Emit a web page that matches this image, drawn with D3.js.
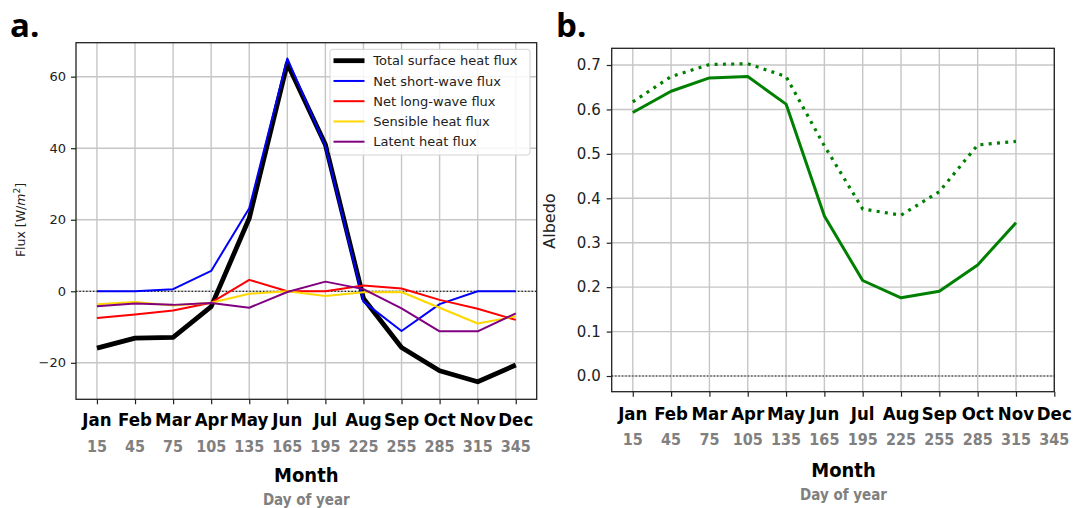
<!DOCTYPE html>
<html><head><meta charset="utf-8">
<script src="https://cdn.jsdelivr.net/npm/d3@7/dist/d3.min.js"></script>
<style>
body{margin:0;background:#fff;}
svg{display:block;}
.tl{font-family:"DejaVu Sans",sans-serif;fill:#222;}
.cond{font-family:"DejaVu Sans Condensed","DejaVu Sans",sans-serif;font-stretch:condensed;font-weight:bold;}
</style></head>
<body>
<svg id="chart" width="1075" height="508"></svg>
<script>
// ---------- data ----------
const months = ["Jan","Feb","Mar","Apr","May","Jun","Jul","Aug","Sep","Oct","Nov","Dec"];
const days = [15,45,75,105,135,165,195,225,255,285,315,345];

const totalFlux     = [-15.9,-13.1,-12.9,-4.3,20.4,63.7,41.0,-2.0,-15.7,-22.2,-25.3,-20.6];
const shortWaveFlux = [0.0,0.0,0.6,5.7,23.2,65.1,40.5,-2.9,-11.1,-3.6,0.0,0.0];
const longWaveFlux  = [-7.5,-6.5,-5.4,-3.2,3.2,0.0,0.0,1.6,0.8,-2.4,-4.9,-8.0];
const sensibleFlux  = [-3.6,-3.0,-4.0,-3.2,-0.7,0.0,-1.3,-0.3,-0.2,-4.6,-9.0,-7.0];
const latentFlux    = [-4.2,-3.4,-3.8,-3.3,-4.6,-0.2,2.7,0.6,-4.8,-11.2,-11.2,-6.2];

const albedoSolid  = [0.593,0.641,0.671,0.674,0.612,0.360,0.215,0.176,0.191,0.250,0.345];
const albedoDotted = [0.617,0.674,0.701,0.703,0.674,0.518,0.376,0.362,0.415,0.520,0.528];

const fluxTicks = [-20,0,20,40,60];
const albedoTicks = [0,0.1,0.2,0.3,0.4,0.5,0.6,0.7];

const fluxSeries = [
  {name:"Total surface heat flux", values: totalFlux, color:"#000000", width:4.8},
  {name:"Net short-wave flux", values: shortWaveFlux, color:"#0000ff", width:2},
  {name:"Net long-wave flux", values: longWaveFlux, color:"#ff0000", width:2},
  {name:"Sensible heat flux", values: sensibleFlux, color:"#ffd700", width:2},
  {name:"Latent heat flux", values: latentFlux, color:"#800080", width:2}
];

// ---------- drawing ----------
const svg = d3.select("#chart");
svg.append("rect").attr("width",1075).attr("height",508).attr("fill","#fff");

function panel(o){
  const g = svg.append("g");
  const x = d3.scaleLinear().domain(o.xDomain).range([o.left,o.right]);
  const y = d3.scaleLinear().domain(o.yDomain).range([o.bottom,o.top]);
  // grid
  g.append("g").selectAll("line.vg").data(days).join("line")
    .attr("x1",d=>x(d)).attr("x2",d=>x(d)).attr("y1",o.top).attr("y2",o.bottom)
    .attr("stroke","#c6c6c6").attr("stroke-width",1.4);
  g.append("g").selectAll("line.hg").data(o.yTicks).join("line")
    .attr("y1",d=>y(d)).attr("y2",d=>y(d)).attr("x1",o.left).attr("x2",o.right)
    .attr("stroke","#c6c6c6").attr("stroke-width",1.4);
  // zero dotted line
  g.append("line").attr("x1",o.left).attr("x2",o.right).attr("y1",y(0)).attr("y2",y(0))
    .attr("stroke","#222").attr("stroke-width",1.2).attr("stroke-dasharray","1.4,2");
  // axes
  const ya = g.append("g").attr("transform",`translate(${o.left},0)`)
    .call(d3.axisLeft(y).tickValues(o.yTicks).tickSize(5).tickPadding(o.yPad).tickFormat(o.yFormat));
  ya.select(".domain").remove();
  ya.selectAll("line").attr("stroke","#222").attr("stroke-width",1.2);
  ya.selectAll("text").attr("class","tl").style("font-size",o.yFont+"px").attr("fill","#222")
    .attr("font-family","DejaVu Sans");
  const xa = g.append("g").attr("transform",`translate(0,${o.bottom})`)
    .call(d3.axisBottom(x).tickValues(days).tickSize(5).tickFormat(""));
  xa.select(".domain").remove();
  xa.selectAll("line").attr("stroke","#222").attr("stroke-width",1.2);
  // month labels
  g.append("g").selectAll("text").data(months).join("text")
    .attr("class","cond").attr("x",(d,i)=>x(days[i])).attr("y",o.monthY)
    .attr("text-anchor","middle").style("font-size","18.5px").attr("fill","#000").text(d=>d);
  g.append("g").selectAll("text").data(days).join("text")
    .attr("class","cond").attr("x",d=>x(d)).attr("y",o.dayY)
    .attr("text-anchor","middle").style("font-size","16px").attr("fill","#808080").text(d=>d);
  const cx = (x(days[0])+x(days[days.length-1]))/2;
  g.append("text").attr("class","cond").attr("x",cx).attr("y",o.monthTitleY)
    .attr("text-anchor","middle").style("font-size","20px").attr("fill","#000").text("Month");
  g.append("text").attr("class","cond").attr("x",cx).attr("y",o.doyY)
    .attr("text-anchor","middle").style("font-size","15px").attr("fill","#808080").text("Day of year");
  return {g,x,y};
}

// Panel a
const A = panel({left:76,right:536.7,top:42.7,bottom:399.3,xDomain:[-1.5,361.5],yDomain:[-30.2,69.5],
  yTicks:fluxTicks,yFormat:d3.format("d"),yFont:13,yPad:5,monthY:426,dayY:451.5,monthTitleY:481.5,doyY:505});
const lineA = d3.line().x((d,i)=>A.x(days[i])).y(d=>A.y(d));
fluxSeries.forEach(s=>{
  A.g.append("path").datum(s.values).attr("d",lineA).attr("fill","none")
    .attr("stroke",s.color).attr("stroke-width",s.width).attr("stroke-linejoin","round");
});
A.g.append("rect").attr("x",76).attr("y",42.7).attr("width",536.7-76).attr("height",399.3-42.7)
  .attr("fill","none").attr("stroke","#222").attr("stroke-width",1.3);
// legend
const lg = A.g.append("g");
lg.append("rect").attr("x",330).attr("y",49.3).attr("width",200).attr("height",105.7).attr("rx",3)
  .attr("fill","#fff").attr("fill-opacity",0.85).attr("stroke","#d4d4d4").attr("stroke-width",1);
fluxSeries.forEach((s,i)=>{
  const yy = 60.7 + i*20.25;
  lg.append("line").attr("x1",333.5).attr("x2",364.5).attr("y1",yy).attr("y2",yy)
    .attr("stroke",s.color).attr("stroke-width",s.width);
  lg.append("text").attr("class","tl").attr("x",373.3).attr("y",yy).attr("dy","0.35em")
    .style("font-size","13px").text(s.name);
});
// y label
const ylA = svg.append("text").attr("class","tl").attr("transform","translate(25,220) rotate(-90)")
  .attr("text-anchor","middle").style("font-size","12.5px");
ylA.append("tspan").text("Flux [W/");
ylA.append("tspan").attr("font-style","italic").text("m");
ylA.append("tspan").attr("baseline-shift","super").style("font-size","9px").text("2");
ylA.append("tspan").text("]");

// Panel b
const B = panel({left:611.7,right:1054.3,top:48.3,bottom:391.7,xDomain:[-1.5,345],yDomain:[-0.0353,0.7376],
  yTicks:albedoTicks,yFormat:d3.format(".1f"),yFont:15,yPad:6,monthY:420,dayY:445,monthTitleY:476.5,doyY:500});
const lineB = d3.line().x((d,i)=>B.x(days[i])).y(d=>B.y(d));
B.g.append("path").datum(albedoDotted).attr("d",lineB).attr("fill","none")
  .attr("stroke","#008000").attr("stroke-width",3.2).attr("stroke-dasharray","3,5.3");
B.g.append("path").datum(albedoSolid).attr("d",lineB).attr("fill","none")
  .attr("stroke","#008000").attr("stroke-width",3).attr("stroke-linejoin","round");
B.g.append("rect").attr("x",611.7).attr("y",48.3).attr("width",1054.3-611.7).attr("height",391.7-48.3)
  .attr("fill","none").attr("stroke","#222").attr("stroke-width",1.3);
svg.append("text").attr("class","tl").attr("transform","translate(555,221) rotate(-90)")
  .attr("text-anchor","middle").style("font-size","16px").text("Albedo");

// panel letters
svg.append("text").attr("x",10).attr("y",37).style("font-family","'Open Sans',sans-serif")
  .style("font-weight","bold").style("font-size","33px").attr("fill","#000").text("a.");
svg.append("text").attr("x",556).attr("y",37).style("font-family","'Open Sans',sans-serif")
  .style("font-weight","bold").style("font-size","33px").attr("fill","#000").text("b.");
</script>
</body></html>
